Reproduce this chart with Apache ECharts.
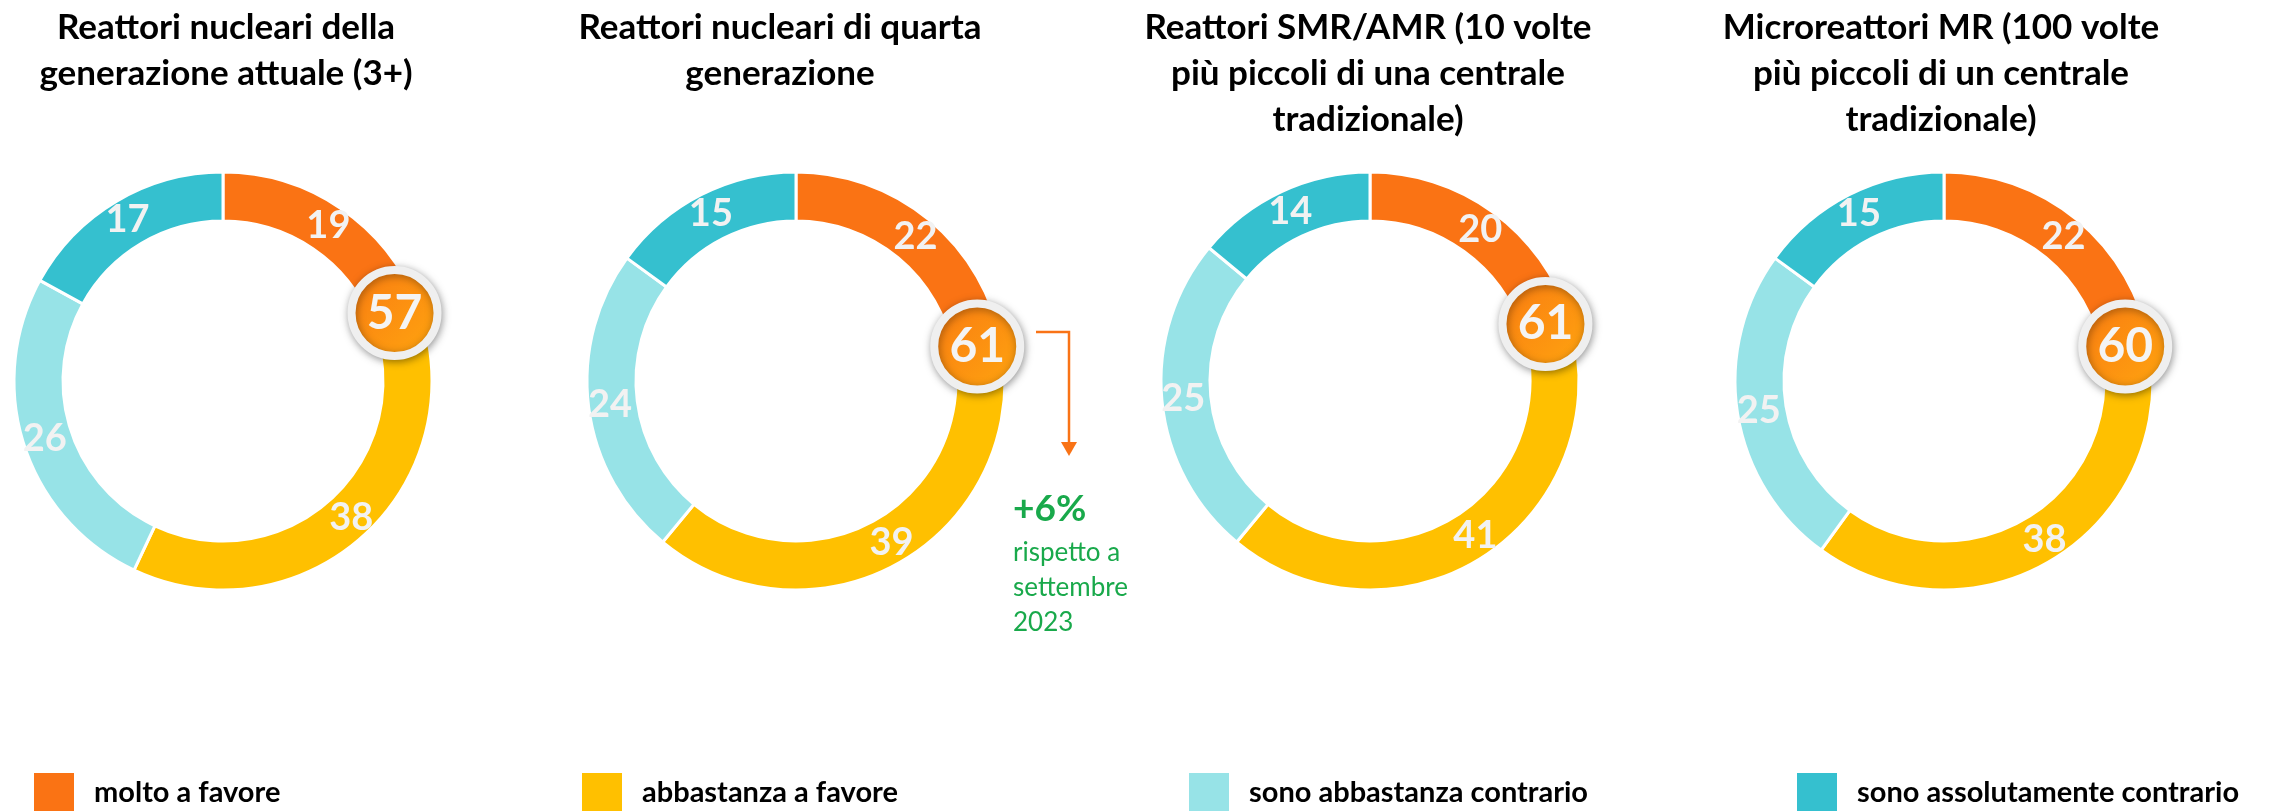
<!DOCTYPE html>
<html>
<head>
<meta charset="utf-8">
<script src="https://cdn.jsdelivr.net/npm/echarts@6/dist/echarts.min.js"></script>
<style>
html, body { margin: 0; padding: 0; background: #fff; }
#chart { width: 2275px; height: 811px; }
</style>
</head>
<body>
<div id="chart"></div>
<script>
// dati
var categorie = ['molto a favore', 'abbastanza a favore', 'sono abbastanza contrario', 'sono assolutamente contrario'];
var titoli = [
    'Reattori nucleari della\ngenerazione attuale (3+)',
    'Reattori nucleari di quarta\ngenerazione',
    'Reattori SMR/AMR (10 volte\npiù piccoli di una centrale\ntradizionale)',
    'Microreattori MR (100 volte\npiù piccoli di un centrale\ntradizionale)'
];
var molto = [19, 22, 20, 22];
var abbastanza = [38, 39, 41, 38];
var contrario = [26, 24, 25, 25];
var assolutamente = [17, 15, 14, 15];
var nota = ['+6%', 'rispetto a\nsettembre\n2023'];

var colori = ['#FA7314', '#FFC000', '#97E3E7', '#35C0CF'];
var font = 'Lato, "Open Sans", sans-serif';

// layout
var centriX = [223, 796, 1370, 1944];
var centroY = 381;
var rIn = 160, rOut = 209;
var rMid = (rIn + rOut) / 2;
var titoliX = [226, 780, 1368, 1941];
var legendaX = [27, 575, 1182, 1790];

var myChart = echarts.init(document.getElementById('chart'));

var series = [];
var polar = [], angleAxis = [], radiusAxis = [], graphic = [];

for (var i = 0; i < 4; i++) {
    var valori = [molto[i], abbastanza[i], contrario[i], assolutamente[i]];
    series.push({
        type: 'pie',
        center: [centriX[i], centroY],
        radius: [rIn, rOut],
        startAngle: 90,
        clockwise: true,
        silent: true,
        itemStyle: { borderColor: '#fff', borderWidth: 3 },
        label: {
            show: true,
            position: 'inside',
            formatter: '{c}',
            color: '#f2f2f2',
            fontSize: 38,
            fontWeight: 'bold',
            fontFamily: font
        },
        labelLine: { show: false },
        data: categorie.map(function (c, k) {
            return { name: c, value: valori[k], itemStyle: { color: colori[k] } };
        })
    });

    polar.push({ center: [centriX[i], centroY], radius: rOut });
    angleAxis.push({
        polarIndex: i, type: 'value', min: 0, max: 100,
        startAngle: 90, clockwise: true, show: false
    });
    radiusAxis.push({ polarIndex: i, type: 'value', min: 0, max: rOut, show: false });

    // totale favorevoli sul confine tra le due fette arancioni
    series.push({
        type: 'scatter',
        coordinateSystem: 'polar',
        polarIndex: i,
        silent: true,
        z: 5,
        symbol: 'circle',
        symbolSize: 86,
        itemStyle: {
            opacity: 1,
            color: new echarts.graphic.LinearGradient(0, 0, 1, 1, [
                { offset: 0, color: '#F97A12' },
                { offset: 1, color: '#FFA70F' }
            ]),
            borderColor: '#EFEFEF',
            borderWidth: 8,
            shadowBlur: 8,
            shadowOffsetX: 1,
            shadowOffsetY: 2,
            shadowColor: 'rgba(0,0,0,0.35)'
        },
        label: {
            show: true,
            position: 'inside',
            formatter: function (p) { return p.value[2]; },
            color: '#f4f4f4',
            fontSize: 48,
            fontWeight: 'bold',
            fontFamily: font
        },
        data: [[rMid, molto[i], molto[i] + abbastanza[i]]]
    });

    graphic.push({
        type: 'text',
        x: titoliX[i],
        y: 5,
        style: {
            text: titoli[i],
            textAlign: 'center',
            textVerticalAlign: 'top',
            fill: '#000',
            font: 'bold 35px ' + font,
            lineHeight: 46
        }
    });
}

// freccia e nota sul secondo grafico
graphic.push({
    type: 'polyline',
    shape: { points: [[1036, 332], [1069, 332], [1069, 444]] },
    style: { stroke: '#F97316', lineWidth: 2.5, fill: null }
});
graphic.push({
    type: 'polygon',
    shape: { points: [[1061, 442], [1077, 442], [1069, 456]] },
    style: { fill: '#F97316' }
});
graphic.push({
    type: 'text', x: 1013, y: 491,
    style: { text: nota[0], fill: '#19A94B', font: 'bold 37px ' + font }
});
graphic.push({
    type: 'text', x: 1013, y: 535,
    style: { text: nota[1], fill: '#19A94B', font: '26px ' + font, lineHeight: 35 }
});

var legend = categorie.map(function (c, k) {
    return {
        data: [c],
        left: legendaX[k],
        top: 766,
        icon: 'rect',
        itemWidth: 42,
        itemHeight: 42,
        selectedMode: false,
        textStyle: {
            color: '#000',
            fontSize: 29,
            fontWeight: 'bold',
            fontFamily: font,
            padding: [0, 0, 0, 14]
        }
    };
});

var option = {
    animation: false,
    backgroundColor: '#fff',
    legend: legend,
    polar: polar,
    angleAxis: angleAxis,
    radiusAxis: radiusAxis,
    graphic: graphic,
    series: series
};
myChart.setOption(option);
</script>
</body>
</html>
